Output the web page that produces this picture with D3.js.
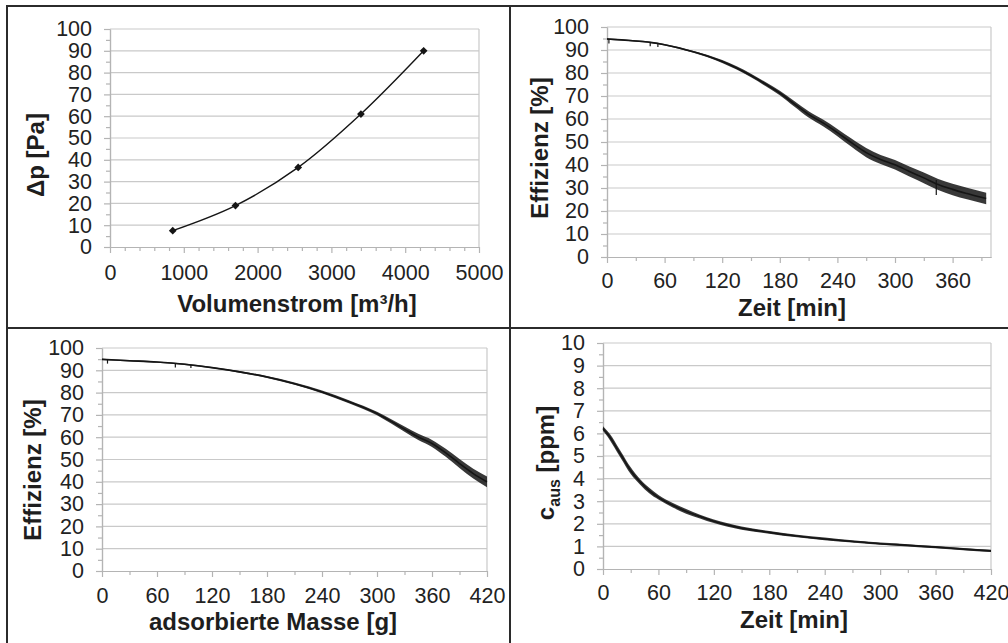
<!DOCTYPE html>
<html>
<head>
<meta charset="utf-8">
<script src="https://cdn.jsdelivr.net/npm/d3@7"></script>
<style>
  body { margin: 0; background: #fff; }
  svg text { font-family: "Liberation Sans", Arial, sans-serif; fill: #1e1e1e; }
</style>
</head>
<body>
<div id="chart"></div>
<script>
// top left: pressure drop over volume flow
var flowRates = [850, 1700, 2550, 3400, 4250];
var pressureDrop = [7.5, 19, 36.5, 61, 90];
var flowTicks = [0, 1000, 2000, 3000, 4000, 5000];
var flowMinorTicks = [200, 400, 600, 800, 1200, 1400, 1600, 1800, 2200, 2400, 2600, 2800,
  3200, 3400, 3600, 3800, 4200, 4400, 4600, 4800];

// top right: efficiency over time
var effTimeMin = [0, 15, 30, 45, 60, 75, 90, 105, 120, 135, 150, 165, 180, 195, 210, 225,
  240, 255, 270, 285, 300, 315, 330, 345, 360, 375, 395];
var effTimePct = [94.8, 94.4, 93.9, 93.3, 92.3, 90.9, 89.2, 87.3, 85.0, 82.2, 78.9, 75.2,
  71.3, 66.6, 62.0, 58.3, 54.1, 49.6, 45.4, 42.4, 40.1, 37.2, 34.4, 31.5, 29.4, 27.6, 25.4];
var effTimeNoise = [0.3, 0.3, 0.3, 0.3, 0.3, 0.4, 0.4, 0.5, 0.6, 0.7, 0.8, 0.9, 1.0, 1.2,
  1.4, 1.5, 1.6, 1.8, 2.0, 2.0, 2.1, 2.2, 2.3, 2.4, 2.5, 2.5, 2.5];
var effTimeSpikes = [[2, 94.8, 92.8], [45, 93.3, 91.6], [53, 92.8, 91.3], [343, 33.5, 27]];

// bottom left: efficiency over adsorbed mass
var massG = [0, 30, 60, 90, 120, 150, 180, 210, 240, 270, 300, 315, 330, 345, 360, 375,
  390, 405, 420];
var effMassPct = [94.9, 94.3, 93.7, 92.7, 91.2, 89.3, 87.0, 84.0, 80.3, 75.8, 70.6, 67.2,
  63.6, 60.1, 57.2, 53.0, 48.2, 43.7, 40.0];
var effMassNoise = [0.3, 0.3, 0.3, 0.3, 0.3, 0.4, 0.4, 0.5, 0.6, 0.7, 0.8, 1.0, 1.2, 1.4,
  1.6, 1.8, 2.0, 2.2, 2.4];
var effMassSpikes = [[6, 94.8, 93], [80, 93.0, 91.2], [97, 92.4, 91.0]];

// bottom right: outlet concentration over time
var outTimeMin = [0, 5, 10, 15, 20, 30, 40, 50, 60, 75, 90, 105, 120, 150, 180, 210, 240,
  270, 300, 330, 360, 390, 420];
var outPpm = [6.22, 5.97, 5.68, 5.34, 5.01, 4.35, 3.86, 3.47, 3.17, 2.83, 2.55, 2.32, 2.11,
  1.81, 1.62, 1.46, 1.33, 1.22, 1.12, 1.05, 0.97, 0.88, 0.80];
var outNoise = [0.1, 0.12, 0.15, 0.15, 0.15, 0.15, 0.12, 0.12, 0.1, 0.1, 0.1, 0.08, 0.08,
  0.07, 0.06, 0.06, 0.06, 0.05, 0.05, 0.05, 0.05, 0.05, 0.05];

var percentTicks = [0, 10, 20, 30, 40, 50, 60, 70, 80, 90, 100];
var percentMinorTicks = [5, 15, 25, 35, 45, 55, 65, 75, 85, 95];
var ppmTicks = [0, 1, 2, 3, 4, 5, 6, 7, 8, 9, 10];
var ppmMinorTicks = [0.5, 1.5, 2.5, 3.5, 4.5, 5.5, 6.5, 7.5, 8.5, 9.5];
var timeTicks360 = [0, 60, 120, 180, 240, 300, 360];
var timeTicks420 = [0, 60, 120, 180, 240, 300, 360, 420];
var timeMinorTicks = [30, 90, 150, 210, 270, 330, 390];

var gridColor = "#c9c9c9";
var axisColor = "#b4b4b4";
var lineColor = "#151515";
var frameColor = "#2b2b2b";

var svg = d3.select("#chart").append("svg")
  .attr("width", 1008)
  .attr("height", 643);

function drawPanel(p) {
  var x = d3.scaleLinear().domain(p.xDomain).range([p.left, p.right]);
  var y = d3.scaleLinear().domain(p.yDomain).range([p.bottom, p.top]);
  var g = svg.append("g");

  //grid
  g.selectAll("line.grid").data(p.yTicks.slice(1)).enter().append("line")
    .attr("x1", p.left).attr("x2", p.right)
    .attr("y1", function(d) { return y(d); })
    .attr("y2", function(d) { return y(d); })
    .style("stroke", gridColor).style("stroke-width", 1.2);
  //plot area border right
  g.append("line")
    .attr("x1", p.right).attr("x2", p.right)
    .attr("y1", p.top).attr("y2", p.bottom)
    .style("stroke", gridColor).style("stroke-width", 1.2);

  //axes
  var fmt = d3.format("d");
  var yMinor = g.append("g").attr("transform", "translate(" + p.left + ",0)")
    .call(d3.axisLeft(y).tickValues(p.yMinor).tickSize(4).tickSizeOuter(0).tickFormat(""));
  var yAxis = g.append("g").attr("transform", "translate(" + p.left + ",0)")
    .call(d3.axisLeft(y).tickValues(p.yTicks).tickSize(6).tickSizeOuter(0).tickPadding(12).tickFormat(fmt));
  var xMinor = g.append("g").attr("transform", "translate(0," + p.bottom + ")")
    .call(d3.axisBottom(x).tickValues(p.xMinor).tickSize(4).tickSizeOuter(0).tickFormat(""));
  var xAxis = g.append("g").attr("transform", "translate(0," + p.bottom + ")")
    .call(d3.axisBottom(x).tickValues(p.xTicks).tickSize(6).tickSizeOuter(0).tickPadding(p.xPad).tickFormat(fmt));

  [yMinor, yAxis, xMinor, xAxis].forEach(function(a) {
    a.selectAll("path, line").style("stroke", axisColor).style("stroke-width", 1.2);
    a.selectAll("text").style("font-size", "21.5px").style("fill", "#222")
      .style("font-family", "'Liberation Sans', Arial, sans-serif");
  });

  //series
  if (p.noise) {
    var area = d3.area()
      .x(function(d) { return x(d[0]); })
      .y0(function(d) { return y(d[1] - d[2]); })
      .y1(function(d) { return y(d[1] + d[2]); })
      .curve(d3.curveMonotoneX);
    g.append("path").datum(d3.zip(p.xs, p.ys, p.noise))
      .attr("d", area)
      .style("fill", lineColor).style("opacity", 0.85);
  }
  var line = d3.line()
    .x(function(d) { return x(d[0]); })
    .y(function(d) { return y(d[1]); })
    .curve(p.markers ? d3.curveCatmullRom.alpha(0.5) : d3.curveMonotoneX);
  g.append("path").datum(d3.zip(p.xs, p.ys))
    .attr("d", line)
    .style("fill", "none").style("stroke", lineColor).style("stroke-width", p.markers ? 1.4 : 1.6);

  if (p.spikes) {
    g.selectAll("line.spike").data(p.spikes).enter().append("line")
      .attr("x1", function(d) { return x(d[0]); })
      .attr("x2", function(d) { return x(d[0]); })
      .attr("y1", function(d) { return y(d[1]); })
      .attr("y2", function(d) { return y(d[2]); })
      .style("stroke", lineColor).style("stroke-width", 1.2);
  }

  if (p.markers) {
    g.selectAll("path.marker").data(d3.zip(p.xs, p.ys)).enter().append("path")
      .attr("d", d3.symbol().type(d3.symbolSquare).size(30))
      .attr("transform", function(d) {
        return "translate(" + x(d[0]) + "," + y(d[1]) + ") rotate(45)";
      })
      .style("fill", lineColor);
  }

  //titles
  g.append("text").text(p.xTitle)
    .attr("x", p.xTitleX).attr("y", p.xTitleY)
    .attr("text-anchor", "middle")
    .style("font-size", "24px").style("font-weight", "bold");

  var yt = g.append("text")
    .attr("transform", "translate(" + p.yTitleX + "," + p.yTitleY + ") rotate(-90)")
    .attr("text-anchor", "middle")
    .style("font-size", "24px").style("font-weight", "bold");
  if (p.ySub) {
    yt.append("tspan").text(p.yTitle[0]);
    yt.append("tspan").text(p.ySub).attr("dy", 6).style("font-size", "16px");
    yt.append("tspan").text(p.yTitle[1]).attr("dy", -6);
  } else {
    yt.text(p.yTitle);
  }
}

drawPanel({
  left: 110, right: 479, top: 29, bottom: 247,
  xDomain: [0, 5000], yDomain: [0, 100],
  xTicks: flowTicks, xMinor: flowMinorTicks, yTicks: percentTicks, yMinor: percentMinorTicks,
  xPad: 12,
  xs: flowRates, ys: pressureDrop, markers: true,
  xTitle: "Volumenstrom [m³/h]", xTitleX: 297, xTitleY: 312,
  yTitle: "Δp [Pa]", yTitleX: 44, yTitleY: 155
});

drawPanel({
  left: 607, right: 991, top: 27, bottom: 257,
  xDomain: [0, 400], yDomain: [0, 100],
  xTicks: timeTicks360, xMinor: timeMinorTicks, yTicks: percentTicks, yMinor: percentMinorTicks,
  xPad: 10,
  xs: effTimeMin, ys: effTimePct, noise: effTimeNoise, spikes: effTimeSpikes,
  xTitle: "Zeit [min]", xTitleX: 792, xTitleY: 316,
  yTitle: "Effizienz [%]", yTitleX: 548, yTitleY: 148
});

drawPanel({
  left: 102, right: 487, top: 348, bottom: 571,
  xDomain: [0, 420], yDomain: [0, 100],
  xTicks: timeTicks420, xMinor: timeMinorTicks, yTicks: percentTicks, yMinor: percentMinorTicks,
  xPad: 11,
  xs: massG, ys: effMassPct, noise: effMassNoise, spikes: effMassSpikes,
  xTitle: "adsorbierte Masse [g]", xTitleX: 273, xTitleY: 630,
  yTitle: "Effizienz [%]", yTitleX: 41, yTitleY: 470
});

drawPanel({
  left: 603, right: 991, top: 343, bottom: 569,
  xDomain: [0, 420], yDomain: [0, 10],
  xTicks: timeTicks420, xMinor: timeMinorTicks, yTicks: ppmTicks, yMinor: ppmMinorTicks,
  xPad: 10,
  xs: outTimeMin, ys: outPpm, noise: outNoise,
  xTitle: "Zeit [min]", xTitleX: 794, xTitleY: 628,
  yTitle: ["c", " [ppm]"], ySub: "aus", yTitleX: 554, yTitleY: 463
});

//frame
var frame = [
  [6, 6, 1008, 6],
  [7, 6, 7, 643],
  [510, 6, 510, 643],
  [6, 328, 1008, 328]
];
svg.selectAll("line.frame").data(frame).enter().append("line")
  .attr("x1", function(d) { return d[0]; })
  .attr("y1", function(d) { return d[1]; })
  .attr("x2", function(d) { return d[2]; })
  .attr("y2", function(d) { return d[3]; })
  .style("stroke", frameColor).style("stroke-width", 2);
</script>
</body>
</html>
